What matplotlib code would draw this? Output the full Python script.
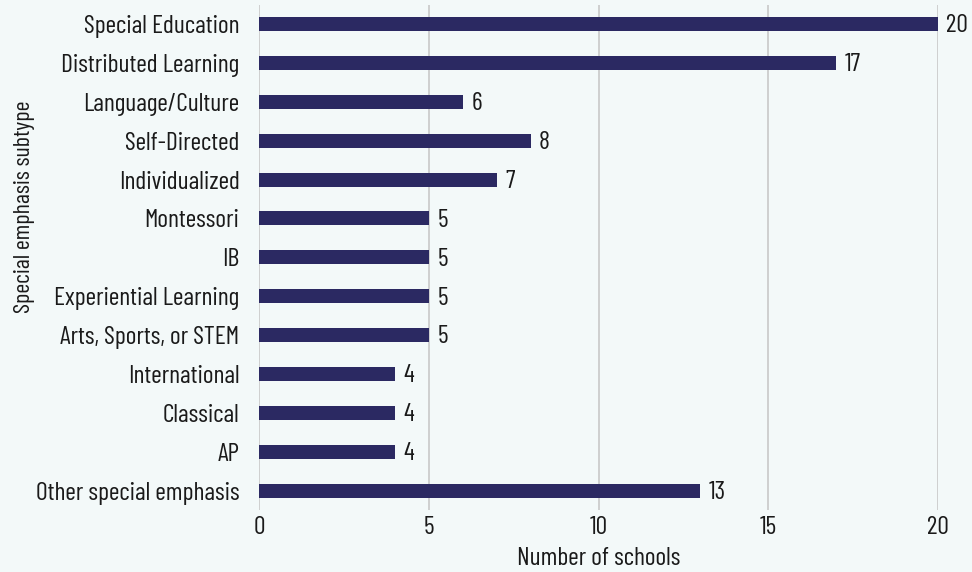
import matplotlib.pyplot as plt

# Special emphasis subtypes, top to bottom
subtypes = ['Special Education', 'Distributed Learning', 'Language/Culture',
            'Self-Directed', 'Individualized', 'Montessori', 'IB',
            'Experiential Learning', 'Arts, Sports, or STEM', 'International',
            'Classical', 'AP', 'Other special emphasis']
schools = [20, 17, 6, 8, 7, 5, 5, 5, 5, 4, 4, 4, 13]
xticks = [0, 5, 10, 15, 20]

plt.rcParams['font.family'] = ['Barlow Condensed', 'DejaVu Sans']

bg = '#f3f9f9'
bar_color = '#2b2962'
ink = '#1a1a1a'
fs = 18.5

fig = plt.figure(figsize=(9.72, 5.72), dpi=100, facecolor=bg)
ax = fig.add_axes([259 / 972, 1 - 510 / 572, (938 - 259) / 972, (510 - 4.6) / 572])
ax.set_facecolor(bg)

y = list(range(len(subtypes)))
ax.barh(y, schools, height=0.36, color=bar_color, zorder=3)
for yi, v in zip(y, schools):
    ax.text(v + 0.25, yi + 0.05, str(v), va='center', ha='left', fontsize=fs, color=ink)

ax.set_ylim(len(subtypes) - 0.5, -0.5)
ax.set_xlim(0, 20)
ax.set_xticks(xticks)
ax.set_yticks(y)
ax.set_yticklabels(subtypes)
ax.tick_params(axis='both', length=0, labelsize=fs, colors=ink)
ax.tick_params(axis='y', pad=14)
ax.tick_params(axis='x', pad=4)
ax.grid(axis='x', color='#c8c8c8', linewidth=1.2, zorder=0)
for s in ax.spines.values():
    s.set_visible(False)

ax.set_xlabel('Number of schools', fontsize=fs, color=ink, labelpad=6)
ax.set_ylabel('Special emphasis subtype', fontsize=17.3, color=ink)
ax.yaxis.set_label_coords(-0.33, 0.60)

fig.savefig('out.png', dpi=100, facecolor=bg)
